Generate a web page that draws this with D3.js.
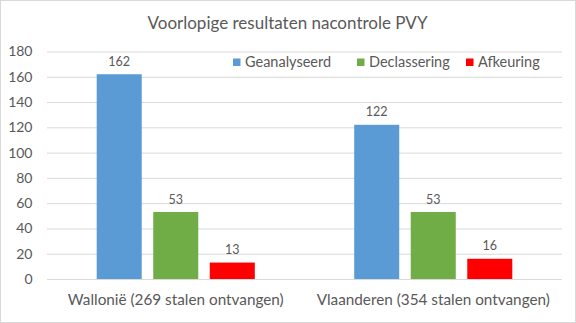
<!DOCTYPE html>
<html><head><meta charset="utf-8">
<script src="https://cdn.jsdelivr.net/npm/d3@7"></script>
<style>body{margin:0;background:#fff}svg{display:block}text{font-family:Lato,"Open Sans",sans-serif;fill:#595959}</style>
</head><body>
<svg id="c" width="576" height="323"></svg>
<script>
const categories = ["Wallonië (269 stalen ontvangen)", "Vlaanderen (354 stalen ontvangen)"];
const seriesNames = ["Geanalyseerd", "Declassering", "Afkeuring"];
const geanalyseerd = [162, 122];
const declassering = [53, 53];
const afkeuring = [13, 16];
const yTicks = [0, 20, 40, 60, 80, 100, 120, 140, 160, 180];
const title = "Voorlopige resultaten nacontrole PVY";
const colors = ["#5B9BD5", "#70AD47", "#FF0000"];

(function(){
const values = [geanalyseerd, declassering, afkeuring];
const svg = d3.select("#c");
svg.append("rect").attr("x",0.5).attr("y",0.5).attr("width",575).attr("height",322)
  .attr("fill","#fff").attr("stroke","#D9D9D9");

const pLeft = 47, pRight = 562, pTop = 51.5, pBottom = 279;
const y = d3.scaleLinear().domain([0,180]).range([pBottom, pTop]);
const x0 = d3.scaleBand().domain(categories).range([pLeft,pRight]).paddingInner(0.386).paddingOuter(0.193);
const x1 = d3.scaleBand().domain(seriesNames).range([0,x0.bandwidth()]).paddingInner(0.2035).paddingOuter(0);

svg.append("text").attr("x",287.5).attr("y",29).attr("text-anchor","middle")
  .style("font-size","17px").text(title);

const yAxis = d3.axisLeft(y).tickValues(yTicks).tickSize(-(pRight-pLeft)).tickPadding(14.5);
const ga = svg.append("g").attr("transform",`translate(${pLeft},0)`).call(yAxis);
ga.select(".domain").remove();
ga.selectAll(".tick line").attr("stroke","#D9D9D9");
ga.selectAll(".tick text").style("font-size","14px").attr("fill","#595959").style("font-family","Lato,sans-serif");

const groups = svg.append("g").selectAll("g").data(categories).join("g")
  .attr("transform", d=>`translate(${x0(d)},0)`);
groups.each(function(cat, ci){
  const g = d3.select(this);
  seriesNames.forEach((s, si)=>{
    const v = values[si][ci];
    g.append("rect").attr("x", x1(s)).attr("width", x1.bandwidth())
      .attr("y", y(v)).attr("height", y(0)-y(v)).attr("fill", colors[si]);
    g.append("text").attr("x", x1(s)+x1.bandwidth()/2).attr("y", y(v)-8.5)
      .attr("text-anchor","middle").style("font-size","12.5px").text(v);
  });
});

svg.append("line").attr("x1",pLeft).attr("x2",pRight).attr("y1",y(0)+0.5).attr("y2",y(0)+0.5).attr("stroke","#D9D9D9");

const xAxis = d3.axisBottom(x0).tickSize(0).tickPadding(15);
const gx = svg.append("g").attr("transform",`translate(0,${pBottom})`).call(xAxis);
gx.select(".domain").remove();
gx.selectAll(".tick text").style("font-size","15.3px").attr("fill","#595959").style("font-family","Lato,sans-serif");

const legX = [233, 357, 466];
const leg = svg.append("g");
seriesNames.forEach((s,i)=>{
  leg.append("rect").attr("x",legX[i]).attr("y",58.5).attr("width",7.5).attr("height",7.5).attr("fill",colors[i]);
  leg.append("text").attr("x",legX[i]+12).attr("y",66.5).style("font-size","14.5px").text(s);
});
})();
</script>
</body></html>
